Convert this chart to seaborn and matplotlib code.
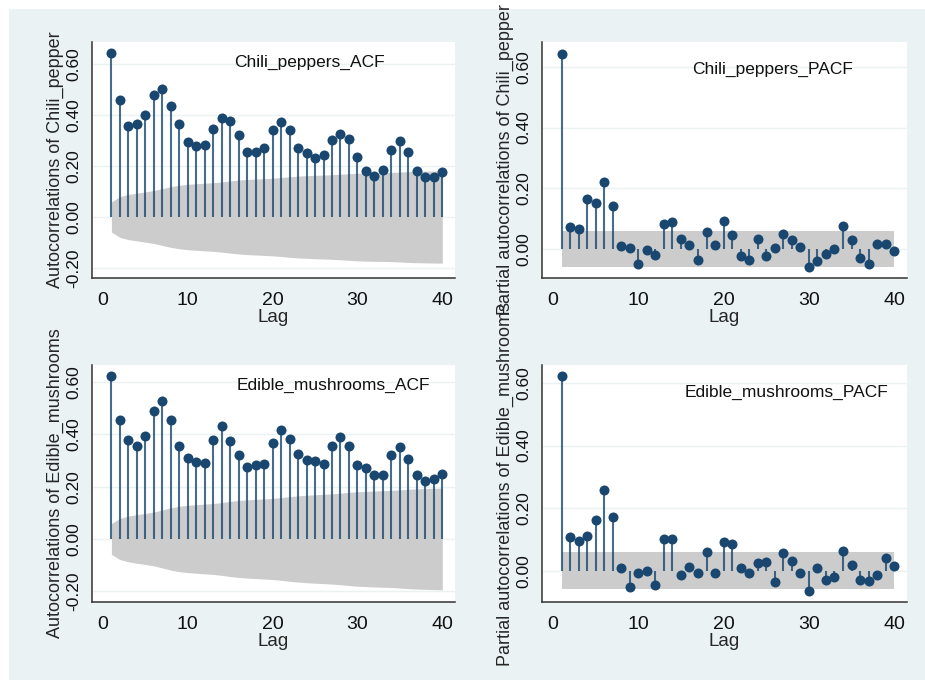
import numpy as np
import pandas as pd
import matplotlib
matplotlib.use("Agg")
import matplotlib.pyplot as plt
from matplotlib.patches import Rectangle
import seaborn as sns

# Lags 1..40 for every correlogram
lags = list(range(1, 41))

chili_acf = [0.643, 0.457, 0.358, 0.366, 0.400, 0.478, 0.502, 0.437, 0.364, 0.295,
             0.278, 0.282, 0.345, 0.389, 0.378, 0.323, 0.253, 0.256, 0.272, 0.341,
             0.372, 0.341, 0.270, 0.252, 0.231, 0.245, 0.302, 0.324, 0.307, 0.234,
             0.181, 0.161, 0.186, 0.263, 0.297, 0.256, 0.181, 0.156, 0.156, 0.177]

chili_pacf = [0.644, 0.074, 0.066, 0.164, 0.153, 0.222, 0.142, 0.009, 0.003, -0.048,
              -0.004, -0.020, 0.083, 0.088, 0.033, 0.014, -0.037, 0.055, 0.014, 0.092,
              0.047, -0.022, -0.036, 0.033, -0.024, 0.002, 0.049, 0.028, 0.007, -0.059,
              -0.041, -0.018, 0.000, 0.077, 0.028, -0.030, -0.048, 0.018, 0.018, -0.008]

mush_acf = [0.622, 0.453, 0.377, 0.357, 0.392, 0.491, 0.526, 0.454, 0.356, 0.308,
            0.295, 0.290, 0.377, 0.430, 0.375, 0.322, 0.276, 0.282, 0.286, 0.365,
            0.417, 0.383, 0.323, 0.303, 0.299, 0.286, 0.354, 0.388, 0.357, 0.281,
            0.271, 0.244, 0.244, 0.320, 0.350, 0.306, 0.245, 0.221, 0.229, 0.248]

mush_pacf = [0.621, 0.107, 0.095, 0.110, 0.163, 0.259, 0.171, 0.009, -0.052, -0.005,
             0.001, -0.046, 0.102, 0.101, -0.014, 0.012, -0.007, 0.059, -0.005, 0.093,
             0.086, 0.011, -0.007, 0.025, 0.030, -0.034, 0.056, 0.031, -0.005, -0.063,
             0.009, -0.029, -0.018, 0.065, 0.019, -0.029, -0.031, -0.014, 0.042, 0.016]

# Number of observations in each series (sets the 95% bands)
n_obs = 1100

titles = ["Chili_peppers_ACF", "Chili_peppers_PACF",
          "Edible_mushrooms_ACF", "Edible_mushrooms_PACF"]
ylabels = ["Autocorrelations of Chili_pepper",
           "Partial autocorrelations of Chili_pepper",
           "Autocorrelations of Edible_mushrooms",
           "Partial autocorrelations of Edible_mushrooms"]
acf_yticks = [-0.2, 0.0, 0.2, 0.4, 0.6]
pacf_yticks = [0.0, 0.2, 0.4, 0.6]
xticks = [0, 10, 20, 30, 40]

NAVY = "#1a476f"
BAND = "#cccccc"
BG = "#EAF2F3"


def acf_band(r, n):
    """Bartlett's formula for the 95% band of the autocorrelations."""
    r = np.asarray(r)
    cum = np.concatenate([[0.0], np.cumsum(r[:-1] ** 2)])
    return 1.96 * np.sqrt((1.0 + 2.0 * cum) / n)


def pacf_band(r, n):
    return np.full(len(r), 1.96 / np.sqrt(n))


sns.set_theme(style="white")
plt.rcParams["font.family"] = ["Liberation Sans", "DejaVu Sans"]
plt.rcParams["text.color"] = "#111111"

W, H = 925, 680
fig = plt.figure(figsize=(W / 100, H / 100), dpi=100)
fig.patch.set_facecolor("white")
fig.patches.append(Rectangle((9 / W, 0), 1, 1 - 9 / H, transform=fig.transFigure,
                             facecolor=BG, edgecolor="none", zorder=-10))


def px_rect(left, top, right, bottom):
    return [left / W, 1 - bottom / H, (right - left) / W, (bottom - top) / H]


panels = [
    dict(rect=px_rect(92, 42, 455, 278), vals=chili_acf, band=acf_band,
         ylim=(-0.239, 0.686), yticks=acf_yticks, txt=(24.3, 0.604)),
    dict(rect=px_rect(542, 42, 907, 278), vals=chili_pacf, band=pacf_band,
         ylim=(-0.0956, 0.682), yticks=pacf_yticks, txt=(25.7, 0.590)),
    dict(rect=px_rect(92, 365, 455, 602), vals=mush_acf, band=acf_band,
         ylim=(-0.241, 0.665), yticks=acf_yticks, txt=(27.2, 0.588)),
    dict(rect=px_rect(542, 365, 907, 602), vals=mush_pacf, band=pacf_band,
         ylim=(-0.099, 0.657), yticks=pacf_yticks, txt=(27.4, 0.571)),
]

for p, title, ylab in zip(panels, titles, ylabels):
    ax = fig.add_axes(p["rect"])
    ax.set_facecolor("white")
    df = pd.DataFrame({"lag": lags, "r": p["vals"]})
    half = p["band"](df["r"].values, n_obs)

    ax.fill_between(df["lag"], -half, half, color=BAND, lw=0, zorder=1)
    ax.vlines(df["lag"], 0, df["r"], color=NAVY, lw=1.5, alpha=0.8, zorder=2)
    sns.scatterplot(data=df, x="lag", y="r", ax=ax, color=NAVY, s=52,
                    edgecolor=NAVY, linewidth=0, zorder=3, legend=False)

    ax.set_xlim(-1.29, 41.5)
    ax.set_ylim(*p["ylim"])
    ax.set_xticks(xticks)
    ax.set_xticklabels([str(t) for t in xticks])
    ax.set_yticks(p["yticks"])
    ax.set_yticklabels([f"{v:.2f}" for v in p["yticks"]])
    for t in ax.get_yticklabels():
        t.set_rotation(90)
        t.set_va("center")

    ax.yaxis.grid(True, color=BG, lw=1.0)
    ax.xaxis.grid(False)
    ax.set_axisbelow(True)

    for s in ("top", "right"):
        ax.spines[s].set_visible(False)
    for s in ("left", "bottom"):
        ax.spines[s].set_color("#333333")
        ax.spines[s].set_linewidth(1.1)

    ax.tick_params(axis="both", direction="out", length=4, width=1.0,
                   color="#333333", labelcolor="#111111")
    ax.tick_params(axis="x", labelsize=14, pad=6)
    ax.tick_params(axis="y", labelsize=12.5, pad=4)

    ax.set_xlabel("Lag", fontsize=13.5, labelpad=0)
    ax.set_ylabel(ylab, fontsize=13, labelpad=1)

    ax.text(p["txt"][0], p["txt"][1], title, ha="center", va="center",
            fontsize=12.5, color="#111111", zorder=4)

fig.savefig("out.png", dpi=100, facecolor=fig.get_facecolor())
